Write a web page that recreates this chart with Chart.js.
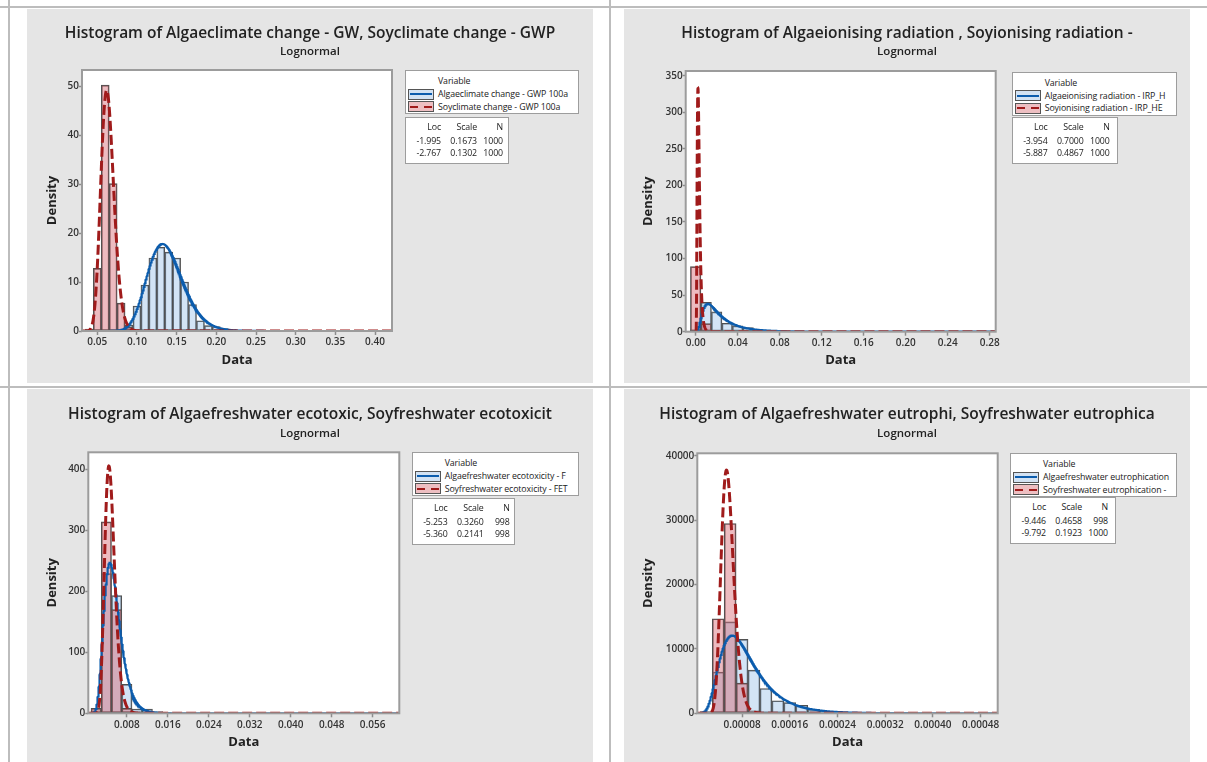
<!DOCTYPE html>
<html>
<head>
<meta charset="utf-8">
<title>Lognormal histograms</title>
<script src="https://cdn.jsdelivr.net/npm/chart.js@4.4.1/dist/chart.umd.min.js"></script>
<style>
  html, body { margin: 0; padding: 0; }
  body { width: 1207px; height: 762px; position: relative; overflow: hidden; background: #fff;
         font-family: "Open Sans", "DejaVu Sans", sans-serif; color: #222; }
  .rule { position: absolute; background: #bdbdbd; }
  .panel { position: absolute; width: 566px; background: #e5e5e5; overflow: hidden; }
  .panel canvas { position: absolute; left: 0; top: 0; }
  .box { position: absolute; background: #fff; border: 1px solid #9d9d9d; box-sizing: border-box;
         font-family: "Open Sans", sans-serif; font-size: 8.8px; letter-spacing: -0.12px; line-height: 1; }
  .box span { position: absolute; white-space: nowrap; transform: translateY(-50%); }
  .box span.r { transform: translate(-100%, -50%); }
  .swatch { position: absolute; box-sizing: border-box; border: 1px solid #555; width: 26px; height: 11px; }
  .swatch i { position: absolute; left: 1px; right: 1px; top: 3.5px; height: 2px; }
</style>
</head>
<body>
<div class="rule" style="left:0;top:6px;width:1207px;height:2px"></div>
<div class="rule" style="left:8px;top:0;width:2px;height:762px"></div>
<div class="rule" style="left:609px;top:0;width:2px;height:762px"></div>
<div class="rule" style="left:0;top:386px;width:1207px;height:2px"></div>

<div class="panel" id="p1" style="left:27px;top:9px;height:374px"><canvas id="c1" width="566" height="374"></canvas></div>
<div class="panel" id="p2" style="left:624px;top:9px;height:374px"><canvas id="c2" width="566" height="374"></canvas></div>
<div class="panel" id="p3" style="left:27px;top:389px;height:373px"><canvas id="c3" width="566" height="373"></canvas></div>
<div class="panel" id="p4" style="left:624px;top:389px;height:373px"><canvas id="c4" width="566" height="373"></canvas></div>

<script>
// climate change (GWP 100a)
const gwpTitle = 'Histogram of Algaeclimate change - GW, Soyclimate change - GWP';
const gwpVariables = ['Algaeclimate change - GWP 100a', 'Soyclimate change - GWP 100a'];
const gwpLoc = [-1.995, -2.767];
const gwpScale = [0.1673, 0.1302];
const gwpN = [1000, 1000];
const gwpAlgaeBins = [0.08, 0.09, 0.10, 0.11, 0.12, 0.13, 0.14, 0.15, 0.16, 0.17, 0.18, 0.19, 0.20, 0.21, 0.22, 0.23, 0.41];
const gwpAlgaeDensity = [0.2, 1.2, 5.1, 9.4, 14.9, 17.1, 16.1, 14.9, 10.0, 5.4, 2.1, 1.1, 0.9, 0.5, 0.3, 0.1, 0.1];
const gwpSoyBins = [0.04, 0.05, 0.06, 0.07, 0.08, 0.09];
const gwpSoyDensity = [0.4, 12.8, 50.2, 30.1, 5.7, 0.8];
const gwpXTicks = [0.05, 0.10, 0.15, 0.20, 0.25, 0.30, 0.35, 0.40];
const gwpYTicks = [0, 10, 20, 30, 40, 50];

// ionising radiation
const irpTitle = 'Histogram of Algaeionising radiation , Soyionising radiation -';
const irpVariables = ['Algaeionising radiation - IRP_H', 'Soyionising radiation - IRP_HE'];
const irpLoc = [-3.954, -5.887];
const irpScale = [0.7000, 0.4867];
const irpN = [1000, 1000];
const irpAlgaeBins = [0.00, 0.01, 0.02, 0.03, 0.04, 0.05, 0.06, 0.07, 0.26, 0.27, 0.28];
const irpAlgaeDensity = [2.5, 40, 27, 11.5, 8, 5.5, 2.5, 2.0, 0.1, 0.1, 0.1];
const irpSoyBins = [0.00, 0.01];
const irpSoyDensity = [89, 11];
const irpXTicks = [0.00, 0.04, 0.08, 0.12, 0.16, 0.20, 0.24, 0.28];
const irpYTicks = [0, 50, 100, 150, 200, 250, 300, 350];

// freshwater ecotoxicity
const fetTitle = 'Histogram of Algaefreshwater ecotoxic, Soyfreshwater ecotoxicit';
const fetVariables = ['Algaefreshwater ecotoxicity - F', 'Soyfreshwater ecotoxicity - FET'];
const fetLoc = [-5.253, -5.360];
const fetScale = [0.3260, 0.2141];
const fetN = [998, 998];
const fetAlgaeBins = [0.002, 0.004, 0.006, 0.008, 0.010, 0.012, 0.014];
const fetAlgaeDensity = [4, 229, 193, 47.5, 7, 7, 3];
const fetSoyBins = [0.002, 0.004, 0.006, 0.008];
const fetSoyDensity = [8, 314, 170, 8];
const fetXTicks = [0.008, 0.016, 0.024, 0.032, 0.040, 0.048, 0.056];
const fetYTicks = [0, 100, 200, 300, 400];

// freshwater eutrophication
const feuTitle = 'Histogram of Algaefreshwater eutrophi, Soyfreshwater eutrophica';
const feuVariables = ['Algaefreshwater eutrophication', 'Soyfreshwater eutrophication -'];
const feuLoc = [-9.446, -9.792];
const feuScale = [0.4658, 0.1923];
const feuN = [998, 1000];
const feuAlgaeBins = [0.00002, 0.00004, 0.00006, 0.00008, 0.00010, 0.00012, 0.00014, 0.00016, 0.00018, 0.00020, 0.00022, 0.00024, 0.00026, 0.00032];
const feuAlgaeDensity = [250, 6400, 14200, 11500, 6700, 3850, 1950, 1650, 1250, 600, 300, 150, 100, 50];
const feuSoyBins = [0.00002, 0.00004, 0.00006, 0.00008, 0.00010];
const feuSoyDensity = [150, 14700, 29500, 4700, 400];
const feuXTicks = [0.00008, 0.00016, 0.00024, 0.00032, 0.00040, 0.00048];
const feuYTicks = [0, 10000, 20000, 30000, 40000];

const ALGAE_FILL = 'rgba(150, 190, 230, 0.42)';
const SOY_FILL = 'rgba(212, 92, 104, 0.42)';
const ALGAE_SWATCH = '#d2e2f3';
const SOY_SWATCH = '#eebfc2';
const ALGAE_LINE = '#0b5cad';
const SOY_LINE = '#a01b1b';
const EDGE = '#505050';

Chart.defaults.font.family = '"Open Sans", sans-serif';

function lognormalPdf(x, loc, scale) {
  if (x <= 0) return 0;
  const z = (Math.log(x) - loc) / scale;
  return Math.exp(-0.5 * z * z) / (x * scale * Math.sqrt(2 * Math.PI));
}

// fitted density, sampled evenly plus densely around the peak
function fitCurve(loc, scale, xMin, xMax) {
  const xs = [];
  for (let i = 0; i <= 600; i++) xs.push(xMin + (xMax - xMin) * i / 600);
  for (let z = -5; z <= 6; z += 0.02) xs.push(Math.exp(loc + scale * z));
  return xs.filter(x => x > 0 && x >= xMin && x <= xMax)
    .sort((a, b) => a - b)
    .map(x => ({ x: x, y: lognormalPdf(x, loc, scale) }));
}

function toPoints(bins, density) {
  return bins.map((b, i) => ({ x: b, y: density[i] }));
}

// white plot area and grey frame around it
const framePlugin = {
  id: 'frame',
  beforeDraw(chart) {
    const a = chart.chartArea, ctx = chart.ctx;
    ctx.save();
    ctx.fillStyle = '#fff';
    ctx.fillRect(a.left, a.top, a.right - a.left, a.bottom - a.top);
    ctx.restore();
  },
  afterDatasetsDraw(chart) {
    const a = chart.chartArea, ctx = chart.ctx;
    ctx.save();
    ctx.strokeStyle = '#9c9c9c';
    ctx.lineWidth = 2;
    ctx.strokeRect(a.left, a.top, a.right - a.left, a.bottom - a.top);
    ctx.restore();
  }
};

function buildChart(cfg, d) {
  const W = 566, H = cfg.h;
  const [pl, pt, pr, pb] = cfg.plot;
  const xAxisH = 40;
  const titleLH = 20, subLH = 15, axisLH = 15.6;

  const barStyle = { type: 'bar', borderColor: EDGE, borderWidth: 1, borderSkipped: false,
                     grouped: false, barPercentage: 1, categoryPercentage: 1 };

  new Chart(document.getElementById(cfg.canvas), {
    type: 'bar',
    data: {
      datasets: [
        { type: 'line', label: d.variables[1], data: fitCurve(d.loc[1], d.scale[1], cfg.xMin, cfg.xMax),
          borderColor: SOY_LINE, borderWidth: 3, borderDash: [10, 4], pointRadius: 0, fill: false, order: 1 },
        { type: 'line', label: d.variables[0], data: fitCurve(d.loc[0], d.scale[0], cfg.xMin, cfg.xMax),
          borderColor: ALGAE_LINE, borderWidth: 2.2, pointRadius: 0, fill: false, order: 2 },
        Object.assign({ label: d.variables[1], data: toPoints(d.soyBins, d.soyDensity),
          backgroundColor: SOY_FILL, order: 3 }, barStyle),
        Object.assign({ label: d.variables[0], data: toPoints(d.algaeBins, d.algaeDensity),
          backgroundColor: ALGAE_FILL, order: 4 }, barStyle)
      ]
    },
    options: {
      responsive: false,
      animation: false,
      devicePixelRatio: 1,
      layout: { padding: { left: 0, top: 0, right: 0, bottom: H - pb - xAxisH } },
      plugins: {
        legend: { display: false },
        tooltip: { enabled: false },
        title: {
          display: true, text: d.title, color: '#222',
          font: { size: 15.5, weight: '600', lineHeight: titleLH / 15.5 },
          padding: { top: cfg.titleY - titleLH / 2, bottom: 0 }
        },
        subtitle: {
          display: true, text: 'Lognormal', color: '#222',
          font: { size: 11.5, weight: '600', lineHeight: subLH / 11.5 },
          padding: { top: cfg.subY - subLH / 2 - (cfg.titleY + titleLH / 2), bottom: pt - (cfg.subY + subLH / 2) }
        }
      },
      scales: {
        x: {
          type: 'linear', min: cfg.xMin, max: cfg.xMax, offset: false,
          afterBuildTicks: s => { s.ticks = d.xTicks.map(v => ({ value: v })); },
          afterFit: s => { s.height = xAxisH; },
          grid: { display: true, offset: false, drawOnChartArea: false, drawTicks: true,
                  tickLength: 4, tickColor: '#8c8c8c', tickWidth: 1.5 },
          border: { display: false },
          ticks: { autoSkip: false, maxRotation: 0, minRotation: 0, padding: 1.4, color: '#333',
                   font: { size: 10, weight: '600' }, callback: v => v.toFixed(cfg.xDec) },
          title: { display: true, text: 'Data', color: '#222', font: { size: 13, weight: '700' },
                   padding: { top: 0, bottom: pb + xAxisH - cfg.dataY - axisLH / 2 } }
        },
        y: {
          type: 'linear', min: 0, max: cfg.yMax,
          afterBuildTicks: s => { s.ticks = d.yTicks.map(v => ({ value: v })); },
          afterFit: s => { s.width = pl; },
          grid: { display: true, drawOnChartArea: false, drawTicks: true,
                  tickLength: 3, tickColor: '#8c8c8c', tickWidth: 1.5 },
          border: { display: false },
          ticks: { autoSkip: false, padding: 0, color: '#333',
                   font: { size: 10, weight: '600' }, callback: v => String(v) },
          title: { display: true, text: 'Density', color: '#222', font: { size: 13, weight: '700' },
                   padding: { top: cfg.densityX - axisLH / 2, bottom: 0 } }
        },
        // empty right-hand axis that keeps room for the legend boxes
        side: {
          type: 'linear', position: 'right', display: true,
          afterFit: s => { s.width = W - pr; },
          grid: { display: false, drawTicks: false },
          border: { display: false },
          ticks: { display: false }
        }
      }
    },
    plugins: [framePlugin]
  });
}

function buildLegend(cfg, d) {
  const panel = document.getElementById(cfg.panel);
  const [bx, by, bw] = cfg.box;
  const box = document.createElement('div');
  box.className = 'box';
  Object.assign(box.style, { left: bx + 'px', top: by + 'px', width: bw + 'px', height: '44px' });
  const dash = 'repeating-linear-gradient(90deg, ' + SOY_LINE + ' 0 8px, transparent 8px 14px)';
  box.innerHTML =
    '<span style="left:32px;top:10px">Variable</span>' +
    '<div class="swatch" style="left:2px;top:17.5px;background:' + ALGAE_SWATCH + '"><i style="background:' + ALGAE_LINE + '"></i></div>' +
    '<span style="left:32px;top:23px">' + d.variables[0] + '</span>' +
    '<div class="swatch" style="left:2px;top:30px;background:' + SOY_SWATCH + '"><i style="background:' + dash + '"></i></div>' +
    '<span style="left:32px;top:35.5px">' + d.variables[1] + '</span>';
  panel.appendChild(box);

  const [tx, ty, tw] = cfg.table;
  const table = document.createElement('div');
  table.className = 'box';
  Object.assign(table.style, { left: tx + 'px', top: ty + 'px', width: tw + 'px', height: '47px' });
  const cols = [35, 71, 97];
  let html = '';
  ['Loc', 'Scale', 'N'].forEach((h, j) => { html += '<span class="r" style="left:' + cols[j] + 'px;top:9px">' + h + '</span>'; });
  [0, 1].forEach(i => {
    const row = [d.loc[i].toFixed(3), d.scale[i].toFixed(4), String(d.n[i])];
    const y = i === 0 ? 23 : 34.5;
    row.forEach((v, j) => { html += '<span class="r" style="left:' + cols[j] + 'px;top:' + y + 'px">' + v + '</span>'; });
  });
  table.innerHTML = html;
  panel.appendChild(table);
}

const charts = [
  { cfg: { canvas: 'c1', panel: 'p1', h: 374, xMin: 0.0307, xMax: 0.4214, yMax: 53.3, xDec: 2,
           titleY: 24.5, subY: 43, plot: [55, 61, 365, 322], densityX: 25, dataY: 351,
           box: [378, 61, 174], table: [378, 108, 104] },
    data: { title: gwpTitle, variables: gwpVariables, loc: gwpLoc, scale: gwpScale, n: gwpN,
            algaeBins: gwpAlgaeBins, algaeDensity: gwpAlgaeDensity, soyBins: gwpSoyBins, soyDensity: gwpSoyDensity,
            xTicks: gwpXTicks, yTicks: gwpYTicks } },
  { cfg: { canvas: 'c2', panel: 'p2', h: 374, xMin: -0.0095, xMax: 0.2857, yMax: 356.4, xDec: 2,
           titleY: 24.5, subY: 43, plot: [61.7, 62, 371.7, 322.7], densityX: 24, dataY: 351,
           box: [387.7, 62.7, 165], table: [387.7, 108.3, 106] },
    data: { title: irpTitle, variables: irpVariables, loc: irpLoc, scale: irpScale, n: irpN,
            algaeBins: irpAlgaeBins, algaeDensity: irpAlgaeDensity, soyBins: irpSoyBins, soyDensity: irpSoyDensity,
            xTicks: irpXTicks, yTicks: irpYTicks } },
  { cfg: { canvas: 'c3', panel: 'p3', h: 373, xMin: 0.00047, xMax: 0.0612, yMax: 428, xDec: 3,
           titleY: 25.5, subY: 45, plot: [61.3, 63.3, 372.3, 324.3], densityX: 25, dataY: 353,
           box: [384.7, 63, 167.6], table: [384.7, 109.3, 103] },
    data: { title: fetTitle, variables: fetVariables, loc: fetLoc, scale: fetScale, n: fetN,
            algaeBins: fetAlgaeBins, algaeDensity: fetAlgaeDensity, soyBins: fetSoyBins, soyDensity: fetSoyDensity,
            xTicks: fetXTicks, yTicks: fetYTicks } },
  { cfg: { canvas: 'c4', panel: 'p4', h: 373, xMin: 0.0000049, xMax: 0.0005087, yMax: 40415, xDec: 5,
           titleY: 25.5, subY: 45, plot: [73.3, 64.3, 373.7, 324.3], densityX: 24, dataY: 353,
           box: [386, 64.3, 166.7], table: [386, 108.3, 106] },
    data: { title: feuTitle, variables: feuVariables, loc: feuLoc, scale: feuScale, n: feuN,
            algaeBins: feuAlgaeBins, algaeDensity: feuAlgaeDensity, soyBins: feuSoyBins, soyDensity: feuSoyDensity,
            xTicks: feuXTicks, yTicks: feuYTicks } }
];

charts.forEach(c => { buildChart(c.cfg, c.data); buildLegend(c.cfg, c.data); });
</script>
</body>
</html>
